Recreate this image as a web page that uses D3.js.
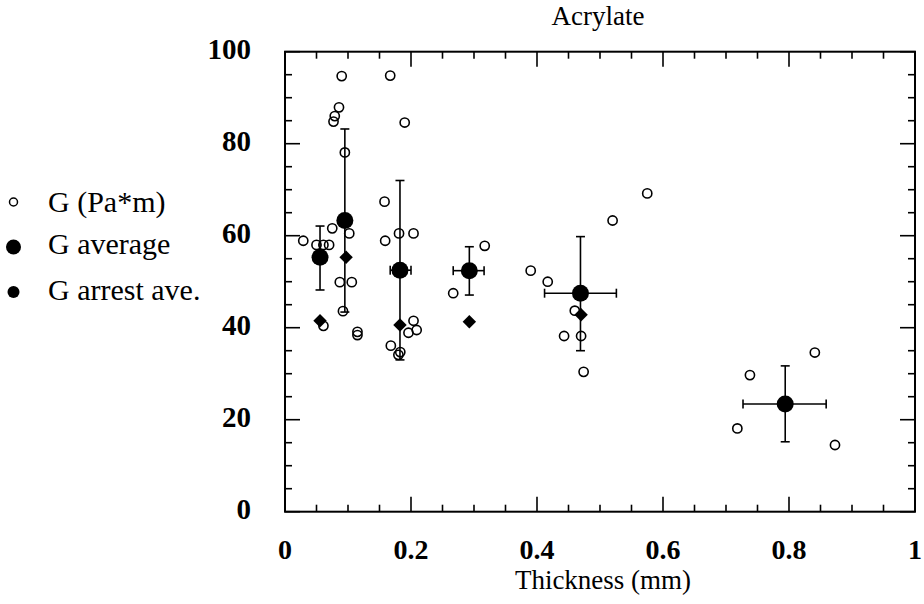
<!DOCTYPE html>
<html>
<head>
<meta charset="utf-8">
<script src="https://cdn.jsdelivr.net/npm/d3@7"></script>
<style>
  body { margin: 0; background: #fff; }
  svg text { font-family: "Liberation Serif", "Times New Roman", serif; fill: #000; }
</style>
</head>
<body>
<div id="chart"></div>
<script>
// Individual G measurements (open circles)
const gThick = [0.09, 0.167, 0.0857, 0.079, 0.077, 0.19, 0.095, 0.158,
  0.075, 0.102, 0.029, 0.05, 0.061, 0.07, 0.159, 0.181, 0.204,
  0.087, 0.106, 0.092, 0.061, 0.115, 0.115, 0.204, 0.209, 0.196,
  0.168, 0.183, 0.18, 0.317, 0.267, 0.39, 0.417, 0.52, 0.575,
  0.46, 0.443, 0.47, 0.474, 0.841, 0.738, 0.718, 0.873];
const gValue = [94.7, 94.8, 87.9, 86, 84.8, 84.6, 78.1, 67.4,
  61.6, 60.5, 58.9, 58.0, 58.0, 58.0, 58.9, 60.5, 60.5,
  49.9, 49.9, 43.6, 40.4, 39.1, 38.4, 41.5, 39.5, 38.9,
  36.1, 34.7, 34.1, 57.8, 47.5, 52.4, 50.0, 63.3, 69.2,
  43.7, 38.2, 38.2, 30.4, 34.6, 29.7, 18.1, 14.5];

// Averages with error bars
const avgThick = [0.0556, 0.095, 0.1825, 0.2926, 0.469, 0.794];
const avgValue = [55.3, 63.3, 52.5, 52.4, 47.5, 23.4];
const avgYLow = [48.2, 43.4, 33.0, 47.1, 35.0, 15.2];
const avgYHigh = [62.1, 83.2, 72.0, 57.6, 59.8, 31.7];
const avgXLow = [null, null, 0.167, 0.267, 0.412, 0.727];
const avgXHigh = [null, null, 0.2, 0.316, 0.526, 0.859];

// Arrest averages (diamonds)
const arrestThick = [0.0556, 0.097, 0.1825, 0.2926, 0.47];
const arrestValue = [41.5, 55.3, 40.6, 41.3, 42.8];

const xMajor = [0, 0.2, 0.4, 0.6, 0.8, 1];
const xTickLabels = ["0", "0.2", "0.4", "0.6", "0.8", "1"];
const yMajor = [0, 20, 40, 60, 80, 100];

const width = 924, height = 604;
const plotLeft = 285, plotRight = 915, plotTop = 51.7, plotBottom = 511.7;

const svg = d3.select("#chart").append("svg")
  .attr("width", width).attr("height", height);

const x = d3.scaleLinear().domain([0, 1]).range([plotLeft, plotRight]);
const y = d3.scaleLinear().domain([0, 100]).range([plotBottom, plotTop]);

const xMinor = d3.range(0, 21).map((i) => i * 0.05);
const yMinor = d3.range(0, 21).map((i) => i * 5);

// frame
svg.append("rect")
  .attr("x", plotLeft).attr("y", plotTop)
  .attr("width", plotRight - plotLeft).attr("height", plotBottom - plotTop)
  .attr("fill", "none").attr("stroke", "#000").attr("stroke-width", 2);

const ticks = svg.append("g").attr("stroke", "#000").attr("stroke-width", 1.6);
const isMajorX = (v) => xMajor.some((m) => Math.abs(m - v) < 1e-6);
const isMajorY = (v) => v % 20 === 0;
xMinor.forEach((v) => {
  const len = isMajorX(v) ? 15 : 7;
  ticks.append("line").attr("x1", x(v)).attr("x2", x(v))
    .attr("y1", plotBottom).attr("y2", plotBottom - len);
  ticks.append("line").attr("x1", x(v)).attr("x2", x(v))
    .attr("y1", plotTop).attr("y2", plotTop + len);
});
yMinor.forEach((v) => {
  const len = isMajorY(v) ? 15 : 7;
  ticks.append("line").attr("y1", y(v)).attr("y2", y(v))
    .attr("x1", plotLeft).attr("x2", plotLeft + len);
  ticks.append("line").attr("y1", y(v)).attr("y2", y(v))
    .attr("x1", plotRight).attr("x2", plotRight - len);
});

// tick labels
svg.append("g").selectAll("text").data(xMajor).enter().append("text")
  .attr("x", (d) => x(d)).attr("y", 559)
  .attr("text-anchor", "middle")
  .style("font-size", "28px").style("font-weight", "bold")
  .text((d, i) => xTickLabels[i]);

svg.append("g").selectAll("text").data(yMajor).enter().append("text")
  .attr("x", 251).attr("y", (d) => y(d) + 7)
  .attr("text-anchor", "end")
  .style("font-size", "29px").style("font-weight", "bold")
  .text((d) => d);

svg.append("text").attr("x", 598).attr("y", 25)
  .attr("text-anchor", "middle").style("font-size", "27px").text("Acrylate");

svg.append("text").attr("x", 603).attr("y", 589)
  .attr("text-anchor", "middle").style("font-size", "27px").text("Thickness (mm)");

// error bars
const eb = svg.append("g").attr("stroke", "#000").attr("stroke-width", 1.6);
const cap = 4.5;
avgThick.forEach((t, i) => {
  const cx = x(t);
  eb.append("line").attr("x1", cx).attr("x2", cx)
    .attr("y1", y(avgYLow[i])).attr("y2", y(avgYHigh[i]));
  [avgYLow[i], avgYHigh[i]].forEach((v) => {
    eb.append("line").attr("x1", cx - cap).attr("x2", cx + cap)
      .attr("y1", y(v)).attr("y2", y(v));
  });
  if (avgXLow[i] !== null) {
    const cy = y(avgValue[i]);
    eb.append("line").attr("x1", x(avgXLow[i])).attr("x2", x(avgXHigh[i]))
      .attr("y1", cy).attr("y2", cy);
    [avgXLow[i], avgXHigh[i]].forEach((v) => {
      eb.append("line").attr("x1", x(v)).attr("x2", x(v))
        .attr("y1", cy - cap).attr("y2", cy + cap);
    });
  }
});

// open circles
svg.append("g").selectAll("circle").data(gThick).enter().append("circle")
  .attr("cx", (d) => x(d)).attr("cy", (d, i) => y(gValue[i]))
  .attr("r", 4.6).attr("fill", "none")
  .attr("stroke", "#000").attr("stroke-width", 1.6);

// average filled circles
svg.append("g").selectAll("circle").data(avgThick).enter().append("circle")
  .attr("cx", (d) => x(d)).attr("cy", (d, i) => y(avgValue[i]))
  .attr("r", 8.5).attr("fill", "#000");

// arrest diamonds
const diamond = d3.symbol().type(d3.symbolSquare).size(90);
svg.append("g").selectAll("path").data(arrestThick).enter().append("path")
  .attr("d", diamond)
  .attr("transform", (d, i) => `translate(${x(d)},${y(arrestValue[i])}) rotate(45)`)
  .attr("fill", "#000");

// legend
const legend = svg.append("g");
const legendItems = [
  { label: "G (Pa*m)", r: 4, fill: "none", cy: 202, ty: 212 },
  { label: "G average", r: 7.5, fill: "#000", cy: 247, ty: 254 },
  { label: "G arrest ave.", r: 6, fill: "#000", cy: 292, ty: 300 },
];
legendItems.forEach((d) => {
  legend.append("circle").attr("cx", 13.5).attr("cy", d.cy).attr("r", d.r)
    .attr("fill", d.fill).attr("stroke", "#000")
    .attr("stroke-width", d.fill === "none" ? 1.5 : 0);
  legend.append("text").attr("x", 48).attr("y", d.ty)
    .style("font-size", "30px").text(d.label);
});
</script>
</body>
</html>
